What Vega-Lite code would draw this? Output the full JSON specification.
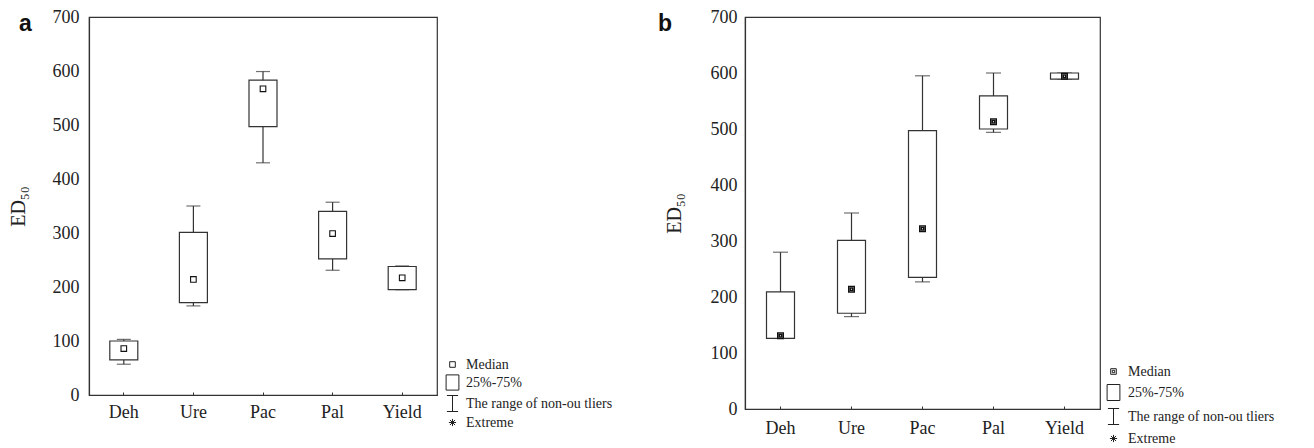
{
  "$schema": "https://vega.github.io/schema/vega-lite/v6.json",
  "background": "white",
  "padding": {"left": 7, "top": 7, "right": 0, "bottom": 0},
  "config": {
    "font": "Liberation Serif",
    "view": {"stroke": "#333", "strokeWidth": 1.2},
    "axis": {"domainColor": "#333", "domainWidth": 1.2, "labelColor": "#222", "titleColor": "#222", "grid": false, "labelFont": "Liberation Serif", "titleFont": "Liberation Serif", "labelFontSize": 18, "titleFontSize": 20, "titleFontWeight": "normal"},
    "legend": {"labelFont": "Liberation Serif", "labelColor": "#222"}
  },
  "datasets": {
    "box": [
      {"panel": "a", "cat": "Deh", "wlo": 57, "q1": 65, "med": 86, "q3": 100, "whi": 103, "kind": "Median"},
      {"panel": "a", "cat": "Ure", "wlo": 165, "q1": 171, "med": 214, "q3": 301, "whi": 350, "kind": "Median"},
      {"panel": "a", "cat": "Pac", "wlo": 430, "q1": 497, "med": 567, "q3": 583, "whi": 599, "kind": "Median"},
      {"panel": "a", "cat": "Pal", "wlo": 231, "q1": 252, "med": 299, "q3": 340, "whi": 357, "kind": "Median"},
      {"panel": "a", "cat": "Yield", "wlo": 195, "q1": 195, "med": 217, "q3": 238, "whi": 239, "kind": "Median"},
      {"panel": "b", "cat": "Deh", "wlo": 126, "q1": 126, "med": 131, "q3": 209, "whi": 280, "kind": "Median"},
      {"panel": "b", "cat": "Ure", "wlo": 165, "q1": 171, "med": 214, "q3": 301, "whi": 350, "kind": "Median"},
      {"panel": "b", "cat": "Pac", "wlo": 227, "q1": 235, "med": 322, "q3": 497, "whi": 595, "kind": "Median"},
      {"panel": "b", "cat": "Pal", "wlo": 494, "q1": 500, "med": 513, "q3": 559, "whi": 600, "kind": "Median"},
      {"panel": "b", "cat": "Yield", "wlo": 589, "q1": 589, "med": 594, "q3": 600, "whi": 600, "kind": "Median"}
    ]
  },
  "spacing": 40,
  "resolve": {"scale": {"shape": "independent", "x": "independent", "y": "independent"}, "legend": {"shape": "independent"}},
  "hconcat": [
    {
      "width": 348,
      "height": 378,
      "title": {"text": "a", "anchor": "start", "frame": "bounds", "font": "Liberation Sans", "fontSize": 23, "fontWeight": "bold", "color": "#111", "dx": 11, "dy": 28, "offset": 0},
      "data": {"name": "box"},
      "transform": [{"filter": "datum.panel === 'a'"}],
      "encoding": {
        "x": {"field": "cat", "type": "nominal", "sort": ["Deh", "Ure", "Pac", "Pal", "Yield"], "scale": {"paddingInner": 0, "paddingOuter": 0}, "axis": {"title": null, "labelAngle": 0, "tickSize": -3, "tickColor": "#333", "labelPadding": 11}}
      },
      "layer": [
        {"mark": {"type": "rule", "color": "#333", "strokeWidth": 1.2}, "encoding": {"y": {"field": "wlo", "type": "quantitative", "scale": {"domain": [0, 700]}, "axis": {"title": "ED₅₀", "values": [0, 100, 200, 300, 400, 500, 600, 700], "ticks": false, "labelPadding": 10, "titlePadding": 24}}, "y2": {"field": "whi"}}},
        {"mark": {"type": "tick", "color": "#333", "size": 14, "thickness": 1.2}, "encoding": {"y": {"field": "wlo", "type": "quantitative"}}},
        {"mark": {"type": "tick", "color": "#333", "size": 14, "thickness": 1.2}, "encoding": {"y": {"field": "whi", "type": "quantitative"}}},
        {"mark": {"type": "bar", "width": 28, "fill": "white", "stroke": "#333", "strokeWidth": 1.2}, "encoding": {"y": {"field": "q1", "type": "quantitative"}, "y2": {"field": "q3"}}},
        {"mark": {"type": "point", "filled": false, "size": 256, "stroke": "#111", "strokeWidth": 1.1, "opacity": 1}, "encoding": {
          "y": {"field": "med", "type": "quantitative"},
          "shape": {"field": "kind", "type": "nominal", "scale": {"domain": ["Median", "25%-75%", "The range of non-ou  tliers", "Extreme"], "range": ["M-0.35,-0.35H0.35V0.35H-0.35Z", "M-0.8,-0.95H0.8V0.95H-0.8Z", "M-0.7,-1H0.7M0,-1V1M-0.7,1H0.7", "M0,-0.45V0.45M-0.45,0H0.45M-0.32,-0.32L0.32,0.32M-0.32,0.32L0.32,-0.32"]},
            "legend": {"orient": "none", "legendX": 355, "legendY": 339, "title": null, "labelFontSize": 14, "symbolSize": 256, "symbolStrokeColor": "#222", "symbolStrokeWidth": 1, "symbolFillColor": "transparent", "rowPadding": 0, "labelOffset": 5}}
        }}
      ]
    },
    {
      "width": 355,
      "height": 392,
      "title": {"text": "b", "anchor": "start", "frame": "bounds", "font": "Liberation Sans", "fontSize": 23, "fontWeight": "bold", "color": "#111", "dx": -6, "dy": 28, "offset": 0},
      "data": {"name": "box"},
      "transform": [{"filter": "datum.panel === 'b'"}],
      "encoding": {
        "x": {"field": "cat", "type": "nominal", "sort": ["Deh", "Ure", "Pac", "Pal", "Yield"], "scale": {"paddingInner": 0, "paddingOuter": 0}, "axis": {"title": null, "labelAngle": 0, "tickSize": -3, "tickColor": "#333", "labelPadding": 13}}
      },
      "layer": [
        {"mark": {"type": "rule", "color": "#333", "strokeWidth": 1.2}, "encoding": {"y": {"field": "wlo", "type": "quantitative", "scale": {"domain": [0, 700]}, "axis": {"title": "ED₅₀", "values": [0, 100, 200, 300, 400, 500, 600, 700], "ticks": false, "labelPadding": 8, "titlePadding": 26}}, "y2": {"field": "whi"}}},
        {"mark": {"type": "tick", "color": "#333", "size": 15, "thickness": 1.2}, "encoding": {"y": {"field": "wlo", "type": "quantitative"}}},
        {"mark": {"type": "tick", "color": "#333", "size": 15, "thickness": 1.2}, "encoding": {"y": {"field": "whi", "type": "quantitative"}}},
        {"mark": {"type": "bar", "width": 28, "fill": "white", "stroke": "#333", "strokeWidth": 1.2}, "encoding": {"y": {"field": "q1", "type": "quantitative"}, "y2": {"field": "q3"}}},
        {"mark": {"type": "point", "filled": false, "size": 256, "stroke": "#111", "strokeWidth": 1.4, "opacity": 1}, "encoding": {
          "y": {"field": "med", "type": "quantitative"},
          "shape": {"field": "kind", "type": "nominal", "scale": {"domain": ["Median", "25%-75%", "The range of non-ou  tliers", "Extreme"], "range": ["M-0.35,-0.35H0.35V0.35H-0.35ZM-0.15,-0.15H0.15V0.15H-0.15Z", "M-0.8,-1H0.8V1H-0.8Z", "M-0.7,-1H0.7M0,-1V1M-0.7,1H0.7", "M0,-0.45V0.45M-0.45,0H0.45M-0.32,-0.32L0.32,0.32M-0.32,0.32L0.32,-0.32"]},
            "legend": {"orient": "none", "legendX": 360, "legendY": 346, "title": null, "labelFontSize": 14, "symbolSize": 256, "symbolStrokeColor": "#222", "symbolStrokeWidth": 1, "symbolFillColor": "transparent", "rowPadding": 3, "labelOffset": 6}}
        }}
      ]
    }
  ]
}
